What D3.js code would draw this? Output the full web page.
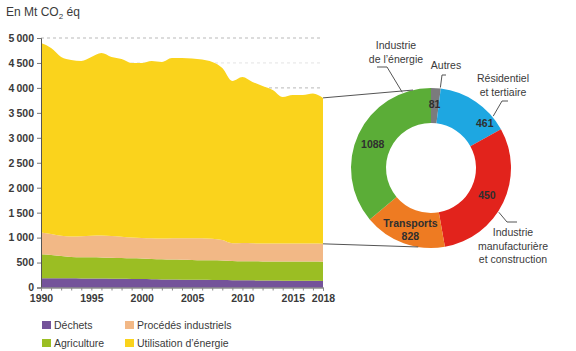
<!DOCTYPE html>
<html><head><meta charset="utf-8">
<script src="https://cdn.jsdelivr.net/npm/d3@7/dist/d3.min.js"></script>
<style>
body{margin:0;background:#fff}
svg{display:block;font-family:"Liberation Sans",Arial,sans-serif}
</style>
</head><body>
<svg id="c" width="576" height="351"></svg>
<script>
// ---------- DATA ----------
const years = [1990,1991,1992,1993,1994,1995,1996,1997,1998,1999,2000,2001,2002,2003,2004,2005,2006,2007,2008,2009,2010,2011,2012,2013,2014,2015,2016,2017,2018];
const dechets     = [185,185,184,183,182,180,178,176,173,170,168,165,162,160,157,155,153,151,149,147,145,143,141,139,137,136,135,134,132];
const agriculture = [480,465,445,430,425,425,425,420,418,415,412,408,403,400,400,398,395,395,393,385,383,383,380,380,383,385,385,387,385];
const procedes    = [435,420,406,407,418,430,437,434,424,415,410,412,415,425,428,432,437,429,408,353,362,359,359,361,360,359,360,359,358];
const energie     = [3800,3730,3585,3540,3515,3585,3660,3590,3565,3500,3510,3555,3540,3615,3615,3605,3585,3545,3450,3255,3330,3235,3160,3080,2940,2980,2980,3010,2925];
const seriesKeys   = ["dechets","agriculture","procedes","energie"];
const seriesLabels = ["Déchets","Agriculture","Procédés industriels","Utilisation d’énergie"];
const yTickValues  = [0,500,1000,1500,2000,2500,3000,3500,4000,4500,5000];
const gridValues   = [4000,4500,5000];
const xTickLabels  = [1990,1995,2000,2005,2010,2015,2018];

const sectorNames  = ["Autres","Résidentiel et tertiaire","Industrie manufacturière et construction","Transports","Industrie de l’énergie"];
const sectorValues = [81,461,450,828,1088];
// ring proportions as drawn in the reference
const sectorShares = [7,54,109,60,130];

// ---------- STYLE ----------
const layerColors  = {dechets:"#74539a",agriculture:"#9bbe23",procedes:"#f2b886",energie:"#fad31c"};
const sectorColors = ["#7b7b7d","#1ea7e1","#e2231c","#ee7b22","#5bad37"];
const gridColors   = {4000:"#b9b9b9",4500:"#e3e3e3",5000:"#b9b9b9"};
const textColor = "#3a3a3a";

const svg = d3.select("#c");
const x = d3.scaleLinear().domain([1990,2018]).range([41,323]);
const y = d3.scaleLinear().domain([0,5000]).range([287.5,38]);

const rows = years.map((yr,i)=>({year:yr,dechets:dechets[i],agriculture:agriculture[i],procedes:procedes[i],energie:energie[i]}));
const stacked = d3.stack().keys(seriesKeys)(rows);

// gridlines
svg.append("g").selectAll("line").data(gridValues).join("line")
  .attr("x1",x(1990)).attr("x2",x(2018)).attr("y1",d=>y(d)).attr("y2",d=>y(d))
  .attr("stroke",d=>gridColors[d]).attr("stroke-width",1).attr("stroke-dasharray","3,3");

// areas
const area = d3.area().x(d=>x(d.data.year)).y0(d=>y(d[0])).y1(d=>y(d[1])).curve(d3.curveMonotoneX);
svg.append("g").selectAll("path").data(stacked).join("path")
  .attr("d",area).attr("fill",d=>layerColors[d.key]);

// y axis
const yAxis = d3.axisLeft(y).tickValues(yTickValues).tickSize(4).tickPadding(3)
  .tickFormat(d=> d>=1000 ? Math.floor(d/1000)+"\u2009"+String(d%1000).padStart(3,"0") : String(d));
const gy = svg.append("g").attr("transform",`translate(${x(1990)},0)`).call(yAxis);
gy.select(".domain").attr("stroke","#555");
gy.selectAll(".tick line").attr("stroke","#777");
gy.selectAll("text").attr("font-size",10.5).attr("fill",textColor).attr("font-weight","bold");

// x axis
const xAxis = d3.axisBottom(x).tickValues(years).tickSize(3).tickPadding(4)
  .tickFormat(d=> xTickLabels.includes(d) ? String(d) : "");
const gx = svg.append("g").attr("transform",`translate(0,${y(0)})`).call(xAxis);
gx.select(".domain").attr("stroke","#555");
gx.selectAll(".tick line").attr("stroke","#888");
gx.selectAll("text").attr("font-size",10.5).attr("fill",textColor).attr("font-weight","bold");

// title
const title = svg.append("text").attr("x",6).attr("y",16).attr("font-size",12).attr("fill",textColor);
title.append("tspan").text("En Mt CO");
title.append("tspan").attr("font-size",8).attr("dy",3).text("2");
title.append("tspan").attr("dy",-3).text(" éq");

// ---------- DONUT ----------
const cx = 431, cy = 168, rIn = 45, rOut = 80;
const pie = d3.pie().sort(null).value((d,i)=>sectorShares[i]);
const arcs = pie(sectorValues);
const arc = d3.arc().innerRadius(rIn).outerRadius(rOut);
const dg = svg.append("g").attr("transform",`translate(${cx},${cy})`);
dg.selectAll("path").data(arcs).join("path").attr("d",arc).attr("fill",(d,i)=>sectorColors[i]);

const ringPt = (ang,r)=>[cx + r*Math.sin(ang), cy - r*Math.cos(ang)];

// connectors from the area chart to the donut
const i18 = years.length-1;
const total18 = stacked[3][i18][1], base18 = stacked[3][i18][0];
const arcEnergy = arcs[4], arcTransport = arcs[3];
const connTop = ringPt(arcEnergy.startAngle + (arcEnergy.endAngle-arcEnergy.startAngle)*0.9, rOut);
const connBot = ringPt(arcTransport.startAngle + (arcTransport.endAngle-arcTransport.startAngle)*0.32, rOut);
svg.append("line").attr("x1",x(2018)).attr("y1",y(total18)).attr("x2",connTop[0]).attr("y2",connTop[1])
  .attr("stroke","#555").attr("stroke-width",1);
svg.append("line").attr("x1",x(2018)).attr("y1",y(base18)).attr("x2",connBot[0]).attr("y2",connBot[1])
  .attr("stroke","#555").attr("stroke-width",1);

// inside value labels
const inPlace = [{t:0.45,r:64},{t:0.8,r:70},{t:0.5,r:62},{t:0.48,r:64},{t:0.48,r:63}];
arcs.forEach((a,i)=>{
  const p = inPlace[i];
  const [px,py] = ringPt(a.startAngle + (a.endAngle-a.startAngle)*p.t, p.r);
  const t = svg.append("text").attr("text-anchor","middle").attr("font-size",10.5)
    .attr("font-weight","bold").attr("fill","#2f2f2f");
  if (i===3){
    t.append("tspan").attr("x",px).attr("y",py-2).text("Transports");
    t.append("tspan").attr("x",px).attr("y",py+11).text(String(sectorValues[i]));
  } else {
    t.attr("x",px).attr("y",py+4).text(String(sectorValues[i]));
  }
});

// outer labels with leader lines
const outer = [
  {i:4, t:0.84, lines:["Industrie","de l’énergie"], tx:396, ty:49, path:(p)=>[[377,67],[387,67],p]},
  {i:0, t:0.95, lines:["Autres"], tx:446, ty:69, path:(p)=>[[446,75],[442,75],p]},
  {i:1, t:0.8, lines:["Résidentiel","et tertiaire"], tx:503, ty:82, path:(p)=>[[508,101],[502,101],p]},
  {i:2, t:0.57, lines:["Industrie","manufacturière","et construction"], tx:513, ty:236, path:(p)=>[[517,222],[507,222],p]}
];
outer.forEach(o=>{
  const a = arcs[o.i];
  const p = ringPt(a.startAngle + (a.endAngle-a.startAngle)*o.t, rOut+1);
  svg.append("path").attr("d",d3.line()(o.path(p))).attr("fill","none").attr("stroke","#555").attr("stroke-width",1);
  const t = svg.append("text").attr("text-anchor","middle").attr("font-size",10.5).attr("fill",textColor);
  o.lines.forEach((l,k)=>t.append("tspan").attr("x",o.tx).attr("y",o.ty+k*13.5).text(l));
});

// ---------- LEGEND ----------
const legendOrder = [0,2,1,3];
const legPos = [[42,321],[125,321],[42,339],[125,339]];
legendOrder.forEach((si,k)=>{
  const [lx,ly] = legPos[k];
  svg.append("rect").attr("x",lx).attr("y",ly).attr("width",9).attr("height",8).attr("fill",layerColors[seriesKeys[si]]);
  svg.append("text").attr("x",lx+12).attr("y",ly+8).attr("font-size",10.5).attr("fill",textColor).text(seriesLabels[si]);
});
</script>
</body></html>
